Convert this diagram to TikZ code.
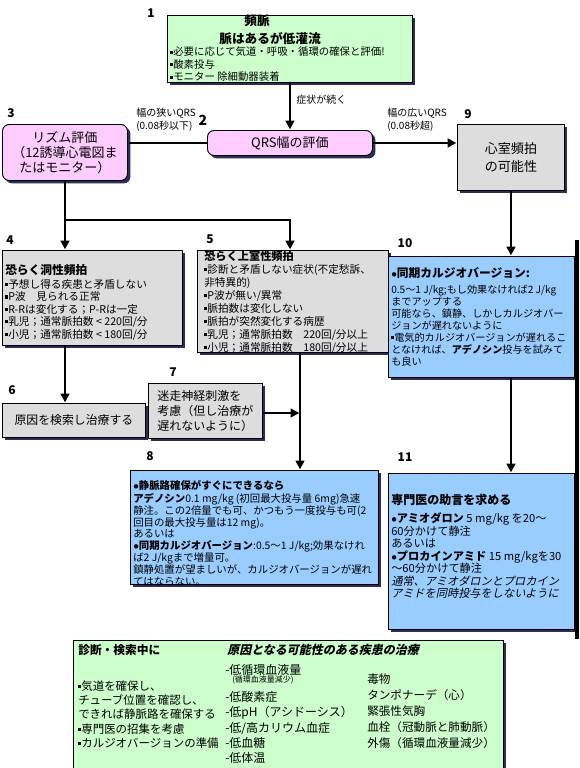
\documentclass[tikz,border=0pt]{standalone}
\usepackage{fontspec}
\setmainfont{Noto Sans CJK JP}
\newfontfamily\slantfont{Noto Sans CJK JP}[FakeSlant=0.22]
\usepackage{xcolor}
\usetikzlibrary{arrows.meta,shadows,positioning}

\definecolor{greenFill}{RGB}{204,255,204}
\definecolor{pinkFill}{RGB}{255,204,255}
\definecolor{greyFill}{RGB}{221,221,221}
\definecolor{blueFill}{RGB}{153,204,255}
\definecolor{shadowBlue}{RGB}{45,45,90}

\newcommand{\sq}{\raisebox{0.22em}{\rule{2.3pt}{2.3pt}}}
\newcommand{\dt}{{\footnotesize$\bullet$}}
\newcommand{\setfs}[2]{\fontsize{#1}{#2}\selectfont}

\begin{document}
\begin{tikzpicture}[x=0.75pt, y=-0.75pt, shorten >=0.5pt]
        \tikzstyle{boxStyle} = [draw=black, line width=0.7pt, inner sep=0pt, anchor=north west,
            drop shadow={shadow xshift=2.2pt, shadow yshift=-2.2pt, fill=shadowBlue, opacity=1}]
        \tikzstyle{greenBox} = [boxStyle, fill=greenFill]
        \tikzstyle{pinkBox} = [boxStyle, fill=pinkFill, rounded corners=5pt, align=center]
        \tikzstyle{greyBox} = [boxStyle, fill=greyFill]
        \tikzstyle{blueBox} = [boxStyle, fill=blueFill]
        \tikzstyle{textBlock} = [inner sep=0pt, anchor=west, align=left]
        \tikzstyle{numLabel} = [inner sep=0pt, font=\bfseries\setfs{9}{10}]
        \tikzstyle{edgeLabel} = [textBlock, font=\setfs{7.5}{9.75}]
        \tikzstyle{arrowEdge} = [draw=black, line width=2pt, -{Triangle[length=6.5pt,width=6.5pt]}]
        \tikzstyle{plainEdge} = [draw=black, line width=2pt]
        \useasboundingbox[fill=white] (0,0) rectangle (579,768);

        % boxes
        \node[greenBox, minimum width=183.75pt, minimum height=50.25pt] (tachy) at (167,15) {};
        \node[pinkBox, minimum width=123.75pt, minimum height=18.75pt, font=\setfs{9.75}{11}] (qrs) at (207,130) {QRS幅の評価};
        \node[pinkBox, minimum width=93.75pt, minimum height=42pt, font=\setfs{9.75}{11.3}] (rhythm) at (2,124) {リズム評価\\（12誘導心電図ま\\たはモニター）};
        \node[greyBox, minimum width=80.25pt, minimum height=49.5pt, align=center, font=\setfs{9.8}{13.5}] (vt) at (457,124) {心室頻拍\\の可能性};
        \node[greyBox, minimum width=135pt, minimum height=71.25pt] (sinus) at (2,250) {};
        \node[greyBox, minimum width=143.25pt, minimum height=76.5pt] (svt) at (197,250) {};
        \node[blueBox, minimum width=139.5pt, minimum height=90.75pt] (sync) at (388,256) {};
        \node[greyBox, minimum width=107.25pt, minimum height=25.5pt, font=\setfs{8.9}{10}] (cause) at (2,403) {原因を検索し治療する};
        \node[greyBox, minimum width=85.5pt, minimum height=41.25pt, align=left, font=\setfs{9}{11.2}] (vagal) at (148,383) {迷走神経刺激を\\考慮（但し治療が\\遅れないように）};
        \node[blueBox, minimum width=186pt, minimum height=85.5pt] (adenosine) at (130,470) {};
        \node[blueBox, minimum width=139.5pt, minimum height=117pt] (expert) at (388,473) {};
        \node[greenBox, minimum width=322.5pt, minimum height=105pt] (reversible) at (73,640) {};
        \draw[line width=3pt, black] (576.5,240) -- (576.5,640);

        % box texts
        \node[inner sep=0pt, font=\bfseries\setfs{9.5}{11}] (tachyTitle) at (257,21) {頻脈};
        \node[inner sep=0pt, font=\bfseries\setfs{9.5}{11}] (tachyPulse) at (270,38.5) {脈はあるが低灌流};
        \node[textBlock, font=\setfs{7.8}{9.4}] (tachyList) at (170,64.5) {\sq 必要に応じて気道・呼吸・循環の確保と評価!\\ \sq 酸素投与\\ \sq モニター 除細動器装着};
        \node[textBlock, font=\setfs{8}{9.3}] (sinusText) at (5,302) {{\bfseries\setfs{8.8}{9.3}恐らく洞性頻拍}\\[1.5pt]\sq 予想し得る疾患と矛盾しない\\ \sq P波　見られる正常\\ \sq R-Rは変化する；P-Rは一定\\ \sq 乳児；通常脈拍数 < 220回/分\\ \sq 小児；通常脈拍数 < 180回/分};
        \node[textBlock, font=\setfs{8}{9.75}] (svtText) at (204,302.5) {{\bfseries\setfs{8.4}{9.75}恐らく上室性頻拍}\\ \sq 診断と矛盾しない症状(不定愁訴、\\非特異的)\\ \sq P波が無い/異常\\ \sq 脈拍数は変化しない\\ \sq 脈拍が突然変化する病歴\\ \sq 乳児；通常脈拍数　220回/分以上\\ \sq 小児；通常脈拍数　180回/分以上};
        \node[textBlock, font=\setfs{7.6}{9}] (syncText) at (391,317) {{\bfseries\setfs{8.8}{9}\dt 同期カルジオバージョン:}\\[3pt]0.5〜1 J/kg;もし効果なければ2 J/kg\\までアップする\\可能なら、鎮静、しかしカルジオバー\\ジョンが遅れないように\\ \sq 電気的カルジオバージョンが遅れるこ\\となければ、{\bfseries アデノシン}投与を試みて\\も良い};
        \node[textBlock, font=\setfs{7.8}{8.9}] (adenosineText) at (133,533) {{\bfseries\dt 静脈路確保がすぐにできるなら}\\[1pt]{\bfseries アデノシン}0.1 mg/kg (初回最大投与量 6mg)急速\\静注。この2倍量でも可、かつもう一度投与も可(2\\回目の最大投与量は12 mg)。\\あるいは\\ \dt{\bfseries 同期カルジオバージョン}:0.5〜1 J/kg;効果なけれ\\ば2 J/kgまで増量可。\\鎮静処置が望ましいが、カルジオバージョンが遅れ\\てはならない。};
        \node[textBlock, font=\setfs{8.4}{9.4}] (expertText) at (391,546.5) {{\bfseries\setfs{9}{9.4}専門医の助言を求める}\\[4pt]\dt{\bfseries アミオダロン} 5 mg/kg を20〜\\60分かけて静注\\あるいは\\ \dt{\bfseries プロカインアミド} 15 mg/kgを30\\〜60分かけて静注\\{\slantfont 通常、アミオダロンとプロカイン}\\{\slantfont アミドを同時投与をしないように}};
        \node[textBlock, font=\bfseries\setfs{8.8}{10}] (diagHead) at (78,650) {診断・検索中に};
        \node[textBlock, font=\slantfont\bfseries\setfs{9}{10}] (causeHead) at (227,650) {原因となる可能性のある疾患の治療};
        \node[textBlock, font=\setfs{8.6}{10.7}] (diagList) at (78,714.5) {\sq 気道を確保し、\\チューブ位置を確認し、\\できれば静脈路を確保する\\ \sq 専門医の招集を考慮\\ \sq カルジオバージョンの準備};
        \node[textBlock, font=\setfs{9}{10}] (hypoTop) at (225,670) {-低循環血液量};
        \node[textBlock, font=\setfs{6}{7}] (hypoNote) at (232,680) {(循環血液量減少)};
        \node[textBlock, font=\setfs{9}{11.4}] (hypoList) at (225,727.5) {-低酸素症\\-低pH（アシドーシス）\\-低/高カリウム血症\\-低血糖\\-低体温};
        \node[textBlock, font=\setfs{8.7}{12}] (toxList) at (367,711) {毒物\\タンポナーデ（心）\\緊張性気胸\\血栓（冠動脈と肺動脈）\\外傷（循環血液量減少）};

        % step numbers
        \foreach \num/\x/\y in {1/151/13, 3/11/113, 4/10/240, 5/210/239, 6/12/390,
                                7/173/372, 8/150/456, 9/468/114, 10/405/243, 11/405/457}
            \node[numLabel] (n\num) at (\x,\y) {\num};
        \node[numLabel, font=\bfseries\setfs{10.5}{11}] (n2) at (203,120) {2};

        % edge labels
        \node[edgeLabel] (persist) at (296,100) {症状が続く};
        \node[edgeLabel] (narrowLabel) at (136,119.5) {幅の狭いQRS\\(0.08秒以下)};
        \node[edgeLabel] (wideLabel) at (387,119.5) {幅の広いQRS\\(0.08秒超)};

        % connectors
        \coordinate (forkLeft) at (65,220);
        \coordinate (forkRight) at (290,220);
        \coordinate (vagalJoin) at (300,413);
        \path[arrowEdge] (tachy) -- (qrs);
        \path[plainEdge] (qrs.west) -- (qrs.west -| rhythm.east);
        \path[arrowEdge] (qrs.east) -- (qrs.east -| vt.west);
        \path[arrowEdge] (vt.south) -- (vt.south |- sync.north);
        \path[arrowEdge] (sync.south -| vt.south) -- (expert.north -| vt.south);
        \path[arrowEdge] (rhythm.south -| forkLeft) -- (forkLeft) -- (forkRight) -- (forkRight |- svt.north);
        \path[arrowEdge] (forkLeft) -- (forkLeft |- sinus.north);
        \path[arrowEdge] (sinus.south -| forkLeft) -- (forkLeft |- cause.north);
        \path[arrowEdge] (svt.south -| vagalJoin) -- (vagalJoin |- adenosine.north);
        \path[arrowEdge] (vagal.east |- vagalJoin) -- (vagalJoin);
\end{tikzpicture}
\end{document}
